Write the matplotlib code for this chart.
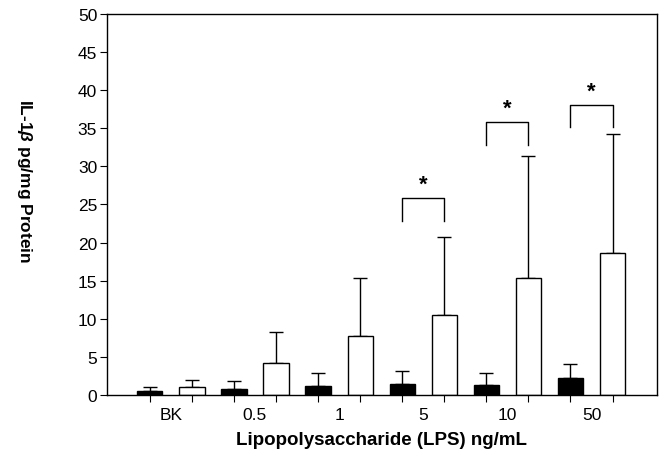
import matplotlib
matplotlib.use("Agg")
import matplotlib.pyplot as plt
import numpy as np

plt.rcParams["font.family"] = ["Liberation Sans", "DejaVu Sans"]
plt.rcParams["mathtext.fontset"] = "custom"
plt.rcParams["mathtext.it"] = "Liberation Sans:italic:bold"

# data
groups = ["BK", "0.5", "1", "5", "10", "50"]
control_mean = [0.5, 0.75, 1.2, 1.5, 1.35, 2.2]
control_err = [0.5, 1.05, 1.7, 1.7, 1.55, 1.8]
lps_mean = [1.1, 4.2, 7.8, 10.5, 15.3, 18.6]
lps_err = [0.8, 4.1, 7.6, 10.2, 16.0, 15.6]

# significance brackets: group index, bracket top, star height
sig_groups = [3, 4, 5]
sig_top = [25.8, 35.8, 38.1]
sig_star = [27.6, 37.6, 39.9]

fig = plt.figure(figsize=(6.6, 4.52), dpi=100)
ax = fig.add_axes([0.162, 0.124, 0.833, 0.843])

n = len(groups)
x_black = np.arange(n) * 2
x_white = x_black + 1
width = 0.6

ax.bar(x_black, control_mean, width, color="black", edgecolor="black", linewidth=1, zorder=2)
ax.bar(x_white, lps_mean, width, color="white", edgecolor="black", linewidth=1, zorder=2)
ax.errorbar(x_black, control_mean, yerr=[np.zeros(n), control_err], fmt="none",
            ecolor="black", elinewidth=1, capsize=5, capthick=1, zorder=1)
ax.errorbar(x_white, lps_mean, yerr=[np.zeros(n), lps_err], fmt="none",
            ecolor="black", elinewidth=1, capsize=5, capthick=1, zorder=1)

for g, top, star in zip(sig_groups, sig_top, sig_star):
    x0, x1 = x_black[g], x_white[g]
    ax.plot([x0, x0, x1, x1], [top - 3, top, top, top - 3], color="black", lw=1)
    ax.text((x0 + x1) / 2, star, "*", ha="center", va="center", fontsize=16, fontweight="bold")

ax.set_xlim(-1.02, 2 * n - 1 + 1.05)
ax.set_ylim(0, 50)
ax.set_yticks(np.arange(0, 51, 5))
ax.tick_params(axis="y", direction="out", length=5, labelsize=12.5, pad=2)

# tick marks at bar centres, labels between each pair
ax.set_xticks(np.arange(2 * n))
ax.set_xticklabels([])
ax.tick_params(axis="x", which="major", direction="out", length=5)
ax.set_xticks(x_black + 0.5, minor=True)
ax.set_xticklabels(groups, minor=True)
ax.tick_params(axis="x", which="minor", length=0, labelsize=12.5, pad=9)

for s in ax.spines.values():
    s.set_linewidth(1)

ax.set_xlabel("Lipopolysaccharide (LPS) ng/mL", fontsize=13.5, fontweight="bold", labelpad=6)
ax.set_ylabel(r"IL-1$\mathit{\beta}$ pg/mg Protein", fontsize=12.5, fontweight="bold", rotation=270)
ax.yaxis.set_label_coords(-0.168, 0.563)

fig.savefig("out.png", dpi=100)
